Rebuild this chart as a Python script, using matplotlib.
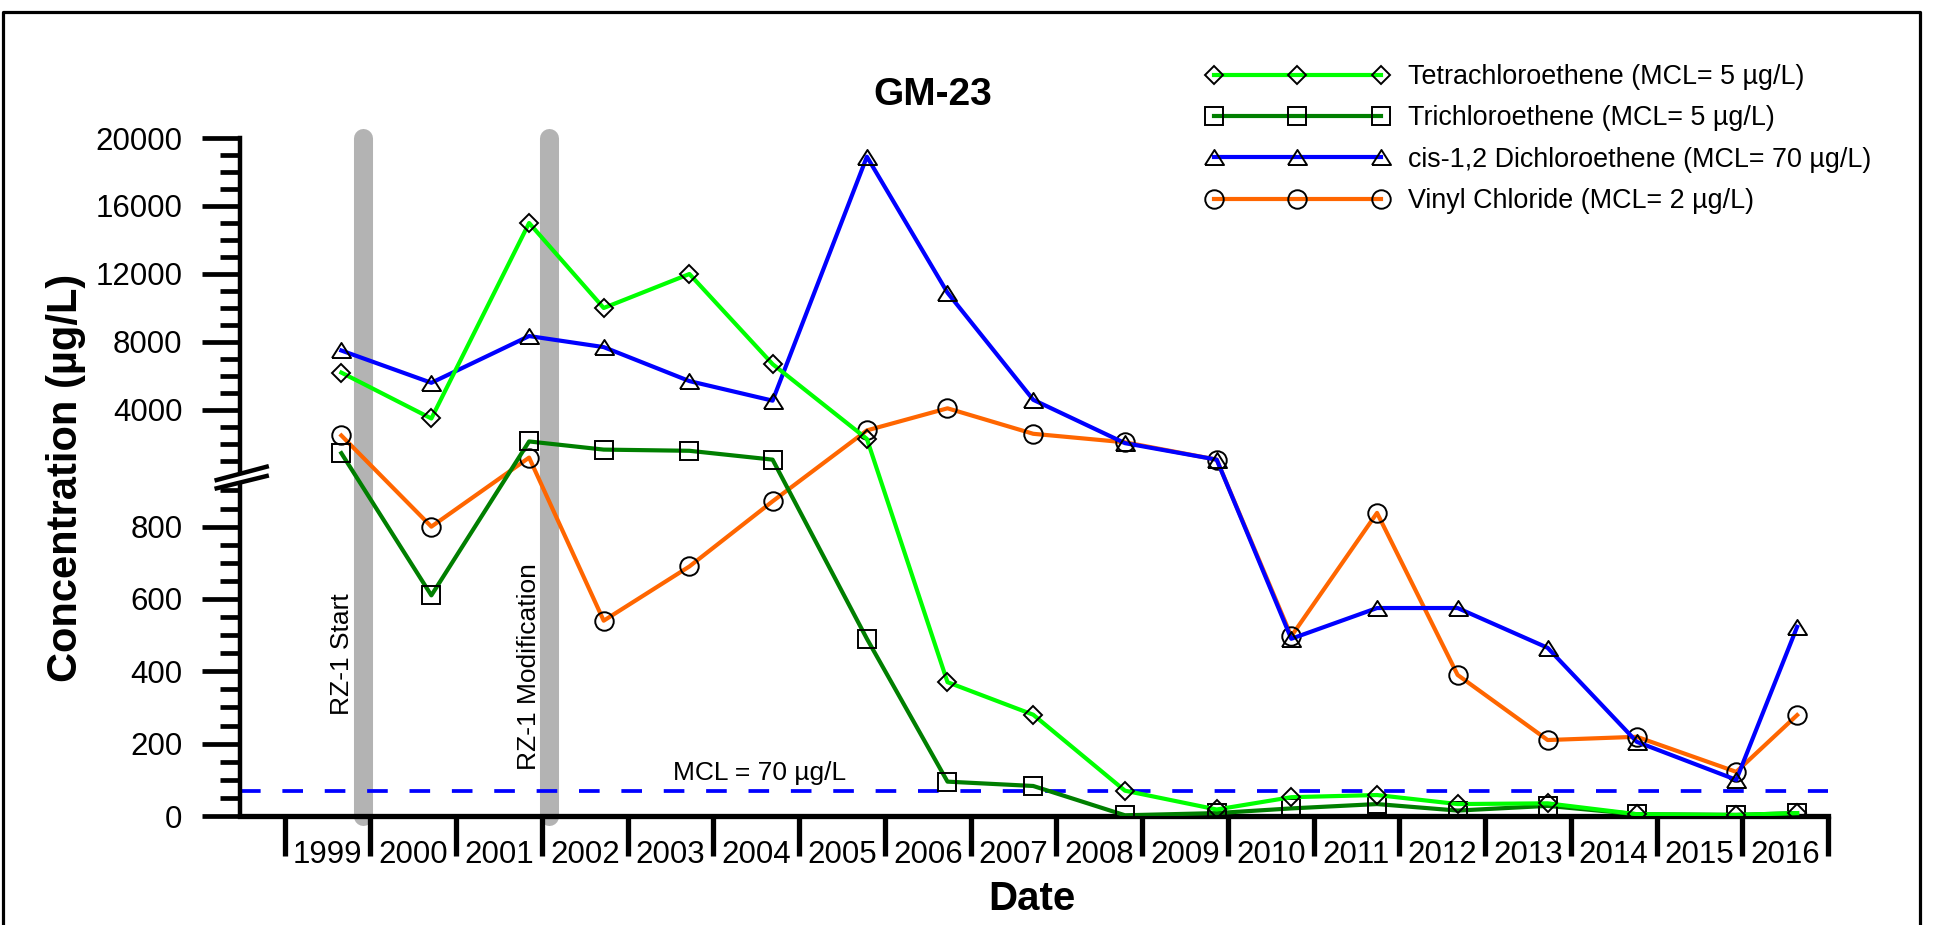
import matplotlib.pyplot as plt
import numpy as np
from matplotlib.lines import Line2D
from matplotlib.patches import Polygon

plt.rcParams['font.family'] = ['Liberation Sans', 'DejaVu Sans']

# sample dates (decimal years) and concentrations, µg/L
sample_dates = [1999.66, 2000.71, 2001.85, 2002.72, 2003.72, 2004.69, 2005.79, 2006.73, 2007.73,
                2008.80, 2009.87, 2010.74, 2011.74, 2012.68, 2013.73, 2014.77, 2015.93, 2016.64]
pce = [6200, 3500, 15000, 10000, 12000, 6700, 2300, 370, 280, 70, 18, 52, 58, 33, 35, 5, 3, 8]
tce = [1460, 610, 2150, 1670, 1600, 1080, 490, 95, 83, 2, 8, 21, 33, 15, 28, 5, 3, 8]
dce = [7500, 5600, 8350, 7700, 5700, 4550, 18900, 10900, 4600, 2050, 1080, 490, 575, 575, 465, 205, 100, 523]
vc = [2500, 800, 1200, 540, 690, 870, 2800, 4100, 2600, 2100, 1080, 497, 838, 390, 210, 219, 122, 279]

years = list(range(1999, 2017))
year_labels = [str(y) for y in years]
y_major = [0, 200, 400, 600, 800, 4000, 8000, 12000, 16000, 20000]
y_minor = [v for v in range(50, 950, 50) if v % 200] + [v for v in range(1000, 20000, 1000) if v % 4000]

events = [1999.91, 2002.08]
event_labels = ['RZ-1 Start', 'RZ-1 Modification']
mcl = 70

# broken y axis: linear 0-950, compressed above 1000
brk_v = [-1e5, 950, 1000, 1e6]
brk_d = [-1e5, 950, 981.5, 981.5 + (1e6 - 1000) * 0.047]


def fwd(v):
    return np.interp(v, brk_v, brk_d)


def inv(d):
    return np.interp(d, brk_d, brk_v)


fig = plt.figure(figsize=(19.34, 9.25), dpi=100)
ax = fig.add_axes([240 / 1934, 109 / 925, 1588 / 1934, 678 / 925])
ax.set_yscale('function', functions=(fwd, inv))
ax.set_xlim(1998.478, 2017.0)
ax.set_ylim(0, 20000)

for x in events:
    ax.plot([x, x], [0, 20000], color='#b3b3b3', lw=13.7, solid_capstyle='round',
            zorder=0.5, clip_on=False)

ax.axhline(mcl, color='#0000ff', lw=2.7, ls=(0, (5.5, 5.8)), zorder=1)

tri = [(-1, -0.79), (1, -0.79), (0, 0.79), (-1, -0.79)]
mk = dict(mfc='none', mec='black', mew=1.4)
l_vc, = ax.plot(sample_dates, vc, color='#ff6600', lw=3.0, marker='o', ms=13.3,
                label='Vinyl Chloride (MCL= 2 µg/L)', zorder=3, **mk)
l_dce, = ax.plot(sample_dates, dce, color='#0000ff', lw=3.0, marker=tri, ms=13.7,
                 label='cis-1,2 Dichloroethene (MCL= 70 µg/L)', zorder=3.1, **mk)
l_tce, = ax.plot(sample_dates, tce, color='#007f00', lw=3.0, marker='s', ms=13.3,
                 label='Trichloroethene (MCL= 5 µg/L)', zorder=3.2, **mk)
l_pce, = ax.plot(sample_dates, pce, color='#00ff00', lw=3.0, marker='D', ms=9.4,
                 label='Tetrachloroethene (MCL= 5 µg/L)', zorder=3.3, **mk)

ax.text(1999.803, 279, event_labels[0], rotation=90, ha='right', va='bottom', fontsize=19)
ax.text(2001.994, 127, event_labels[1], rotation=90, ha='right', va='bottom', fontsize=19)
ax.text(2004.54, 100, 'MCL = 70 µg/L', ha='center', va='baseline', fontsize=19)

# axes styling
for s in ['top', 'right']:
    ax.spines[s].set_visible(False)
ax.spines['left'].set_linewidth(3.2)
ax.spines['bottom'].set_linewidth(3.8)

ax.set_xticks(np.arange(1999, 2018))
ax.set_xticklabels([])
ax.set_xticks(np.arange(1999.5, 2017), minor=True)
ax.set_xticklabels(year_labels, minor=True)
ax.tick_params(axis='x', which='major', length=28.8, width=3.8, direction='out')
ax.tick_params(axis='x', which='minor', length=0, pad=17, labelsize=22.5)

ax.set_yticks(y_major)
ax.set_yticklabels([str(v) for v in y_major])
ax.set_yticks(y_minor, minor=True)
ax.tick_params(axis='y', which='major', length=27.6, width=3.4, pad=13.9, labelsize=22.5)
ax.tick_params(axis='y', which='minor', length=14.4, width=3.4)

# axis break marks
def ax_pt(px, py):
    return ((px - 240) / 1588, (816 - py) / 678)


gap = Polygon([ax_pt(216.7, 480), ax_pt(266.7, 466.7), ax_pt(266.7, 476), ax_pt(216.7, 488.3)],
              closed=True, facecolor='white', edgecolor='none', transform=ax.transAxes,
              clip_on=False, zorder=5)
ax.add_patch(gap)
for (x0, y0), (x1, y1) in [((216.7, 480), (266.7, 466.7)), ((216.7, 488.3), (266.7, 476))]:
    p0, p1 = ax_pt(x0, y0), ax_pt(x1, y1)
    ax.add_line(Line2D([p0[0], p1[0]], [p0[1], p1[1]], transform=ax.transAxes, color='black',
                       lw=3.2, clip_on=False, zorder=6))

fig.text(933 / 1934, (925 - 105) / 925, 'GM-23', ha='center', va='baseline',
         fontsize=28, weight='bold')
fig.text(1032 / 1934, (925 - 910) / 925, 'Date', ha='center', va='baseline',
         fontsize=29, weight='bold')
fig.text(66 / 1934, (925 - 477.5) / 925, 'Concentration (µg/L)', rotation=90,
         ha='center', va='center', fontsize=30, weight='bold')

ax.legend(handles=[l_pce, l_tce, l_dce, l_vc], loc='upper left',
          bbox_to_anchor=(1205.8 / 1934, 0.9307), bbox_transform=fig.transFigure,
          frameon=False, fontsize=19.4, numpoints=3, handlelength=6.8, handletextpad=0.72,
          labelspacing=0.57, borderpad=0, borderaxespad=0)

# outer frame
fig.add_artist(Line2D([3 / 1934, 3 / 1934, 1920 / 1934, 1920 / 1934],
                      [-0.01, 913.3 / 925, 913.3 / 925, -0.01],
                      transform=fig.transFigure, color='black', lw=2.3))

fig.savefig('out.png', dpi=100)
